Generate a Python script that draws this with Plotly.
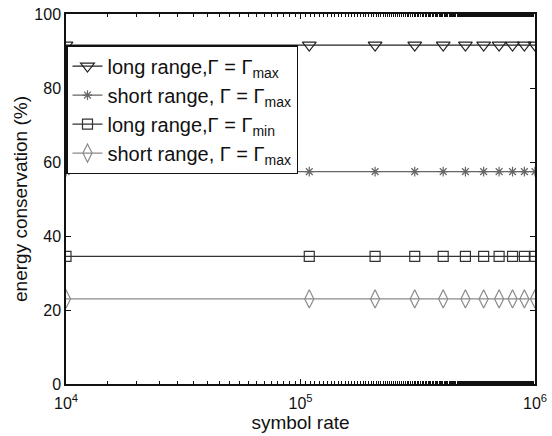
import plotly.graph_objects as go

symbol_rate = [1e4, 1.09e5, 2.08e5, 3.07e5, 4.06e5, 5.05e5, 6.04e5, 7.03e5, 8.02e5, 9.01e5, 1e6]
long_max = [91.6] * 11
short_max = [57.4] * 11
long_min = [34.5] * 11
short_max2 = [23.0] * 11

names = [
    "long range,Γ = Γ<sub>max</sub>",
    "short range, Γ = Γ<sub>max</sub>",
    "long range,Γ = Γ<sub>min</sub>",
    "short range, Γ = Γ<sub>max</sub>",
]
series = [long_max, short_max, long_min, short_max2]
symbols = ["triangle-down-open", "asterisk-open", "square-open", "diamond-tall-open"]
colors = ["#222222", "#666666", "#333333", "#8a8a8a"]
sizes = [12, 8, 10, 13]

fig = go.Figure()
for n, ys, s, c, sz in zip(names, series, symbols, colors, sizes):
    fig.add_trace(go.Scatter(
        x=symbol_rate, y=ys, name=n, mode="lines+markers",
        line=dict(color=c, width=1.2),
        marker=dict(symbol=s, size=sz, color=c, line=dict(color=c, width=1.2)),
    ))

font = "Liberation Sans, Arial, sans-serif"
fig.update_layout(
    width=552, height=436,
    margin=dict(l=66, r=17, t=14, b=52, autoexpand=False),
    paper_bgcolor="white", plot_bgcolor="white",
    font=dict(family=font, size=16, color="#111"),
    showlegend=True,
    legend=dict(x=0, y=0.916, xanchor="left", yanchor="top",
                bordercolor="#111", borderwidth=1.5, bgcolor="white",
                font=dict(size=20, family=font), tracegroupgap=0,
                itemwidth=30),
    xaxis=dict(type="log", range=[4, 6], automargin=False,
               tickvals=[1e4, 1e5, 1e6],
               ticktext=["10<sup>4</sup>", "10<sup>5</sup>", "10<sup>6</sup>"],
               ticks="inside", ticklen=5, tickcolor="#111",
               showline=True, linecolor="#111", linewidth=1.5, mirror="ticks",
               showgrid=False, zeroline=False, ticklabelstandoff=4,
               minor=dict(ticks="inside", ticklen=3, tickcolor="#111", showgrid=False),
               title=dict(text="symbol rate", font=dict(size=19), standoff=0),
               tickfont=dict(size=16)),
    yaxis=dict(range=[0, 100], tickvals=[0, 20, 40, 60, 80, 100], automargin=False,
               ticks="inside", ticklen=5, tickcolor="#111",
               showline=True, linecolor="#111", linewidth=1.5, mirror="ticks",
               showgrid=False, zeroline=False,
               title=dict(text="energy conservation (%)", font=dict(size=19), standoff=2),
               tickfont=dict(size=16)),
)

fig.write_html("out.html")
